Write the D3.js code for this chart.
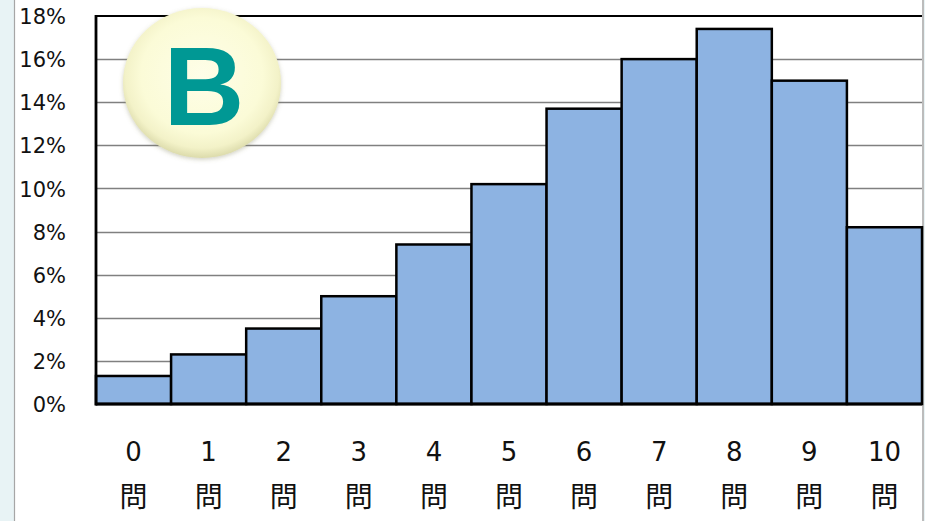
<!DOCTYPE html>
<html>
<head>
<meta charset="utf-8">
<script src="https://cdn.jsdelivr.net/npm/d3@7"></script>
<style>
  html, body { margin: 0; padding: 0; background: #ffffff; }
  svg { display: block; }
</style>
</head>
<body>
<svg id="chart" width="925" height="521"></svg>
<script>
// Share of examinees by number of correct answers (percent)
const categories = ["0", "1", "2", "3", "4", "5", "6", "7", "8", "9", "10"];
const unitLabel = "問";
const shares = [1.3, 2.3, 3.5, 5.0, 7.4, 10.2, 13.7, 16.0, 17.4, 15.0, 8.2];
const yTicks = [0, 2, 4, 6, 8, 10, 12, 14, 16, 18];
const badgeText = "B";

const W = 925, H = 521;
const plot = { left: 96, right: 922, top: 16, bottom: 404 };

const svg = d3.select("#chart");

const x = d3.scaleBand().domain(categories).range([plot.left, plot.right]).padding(0);
const y = d3.scaleLinear().domain([0, 18]).range([plot.bottom, plot.top]);

// page frame: tinted margin on the left, thin borders on both sides
svg.append("rect").attr("x", 0).attr("y", 0).attr("width", 14).attr("height", H).attr("fill", "#e8f3f5");
svg.append("line").attr("x1", 14.5).attr("x2", 14.5).attr("y1", 0).attr("y2", H)
  .attr("stroke", "#a6a6a6").attr("stroke-width", 1.2);
svg.append("line").attr("x1", 923).attr("x2", 923).attr("y1", 0).attr("y2", H)
  .attr("stroke", "#a6a6a6").attr("stroke-width", 1.5);
svg.append("rect").attr("x", 924).attr("y", 0).attr("width", 1).attr("height", H).attr("fill", "#e8f3f5");

// horizontal gridlines
svg.append("g").selectAll("line")
  .data(yTicks.filter(t => t > 0 && t < 18))
  .join("line")
  .attr("x1", plot.left).attr("x2", plot.right)
  .attr("y1", d => Math.round(y(d)) + 0.5).attr("y2", d => Math.round(y(d)) + 0.5)
  .attr("stroke", "#808080").attr("stroke-width", 1.4);

// top border of the plot area
svg.append("line")
  .attr("x1", plot.left).attr("x2", plot.right)
  .attr("y1", y(18)).attr("y2", y(18))
  .attr("stroke", "#000").attr("stroke-width", 2.2);

// bars
svg.append("g").selectAll("rect")
  .data(shares)
  .join("rect")
  .attr("x", (d, i) => x(categories[i]))
  .attr("y", d => y(d))
  .attr("width", x.bandwidth())
  .attr("height", d => y(0) - y(d))
  .attr("fill", "#8db3e2")
  .attr("stroke", "#000")
  .attr("stroke-width", 2.5);

// axis lines
svg.append("line").attr("x1", plot.left).attr("x2", plot.left)
  .attr("y1", plot.top - 1).attr("y2", plot.bottom + 1.5)
  .attr("stroke", "#000").attr("stroke-width", 2.8);
svg.append("line").attr("x1", plot.left).attr("x2", plot.right)
  .attr("y1", plot.bottom).attr("y2", plot.bottom)
  .attr("stroke", "#000").attr("stroke-width", 2.8);

// y axis labels
const yAxis = d3.axisLeft(y).tickValues(yTicks).tickFormat(d => d + "%").tickSize(0).tickPadding(30);
const gy = svg.append("g").attr("transform", `translate(${plot.left},0)`).call(yAxis);
gy.select(".domain").remove();
gy.selectAll("text")
  .attr("font-family", "'DejaVu Sans', Verdana, sans-serif")
  .attr("font-size", 21)
  .attr("fill", "#111")
  .attr("dy", "0.36em");

// x axis labels: number on the first row, unit on the second
const xLabels = svg.append("g").selectAll("g")
  .data(categories)
  .join("g")
  .attr("transform", d => `translate(${x(d) + x.bandwidth() / 2},0)`);
xLabels.append("text")
  .attr("y", 452)
  .attr("dy", "0.36em")
  .attr("text-anchor", "middle")
  .attr("font-family", "'DejaVu Sans', Verdana, sans-serif")
  .attr("font-size", 26)
  .attr("fill", "#111")
  .text(d => d);
xLabels.append("text")
  .attr("y", 497)
  .attr("dy", "0.36em")
  .attr("text-anchor", "middle")
  .attr("font-family", "'Noto Sans CJK JP', sans-serif")
  .attr("font-size", 28)
  .attr("fill", "#111")
  .text(unitLabel);

// round badge with the grade letter
const defs = svg.append("defs");
const grad = defs.append("radialGradient").attr("id", "badgeFill")
  .attr("cx", "50%").attr("cy", "45%").attr("r", "55%");
grad.append("stop").attr("offset", "0%").attr("stop-color", "#fefee8");
grad.append("stop").attr("offset", "70%").attr("stop-color", "#fbfbd7");
grad.append("stop").attr("offset", "88%").attr("stop-color", "#f3f2c8");
grad.append("stop").attr("offset", "100%").attr("stop-color", "#dcdbab");
const shadow = defs.append("filter").attr("id", "badgeShadow")
  .attr("x", "-20%").attr("y", "-20%").attr("width", "140%").attr("height", "140%");
shadow.append("feDropShadow").attr("dx", 0).attr("dy", 1.5).attr("stdDeviation", 2)
  .attr("flood-color", "#7a7a50").attr("flood-opacity", 0.35);

const badge = svg.append("g").attr("transform", "translate(202,83)");
badge.append("ellipse")
  .attr("rx", 79).attr("ry", 75)
  .attr("fill", "url(#badgeFill)")
  .attr("filter", "url(#badgeShadow)");
badge.append("text")
  .attr("x", 2).attr("y", 42)
  .attr("text-anchor", "middle")
  .attr("font-family", "'Liberation Sans', Arial, sans-serif")
  .attr("font-weight", "bold")
  .attr("font-size", 112)
  .attr("fill", "#009894")
  .text(badgeText);
</script>
</body>
</html>
